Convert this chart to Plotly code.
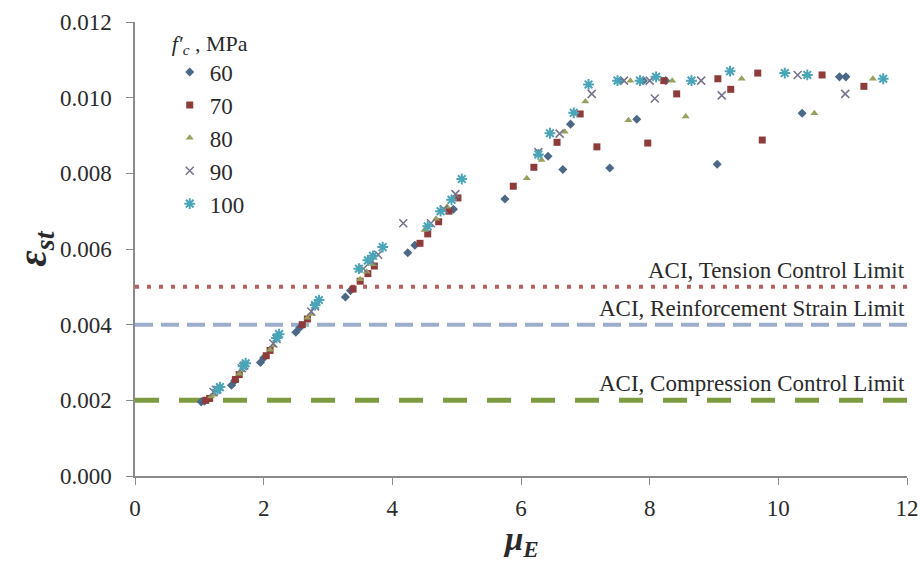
import plotly.graph_objects as go

# Steel strain at ultimate vs. ductility index, grouped by concrete strength f'c (MPa)
mu_60 = [1.03, 1.08, 1.50, 1.55, 1.95, 2.00, 2.50, 2.56, 3.27, 3.35, 4.24, 4.35, 4.95,
         5.75, 6.42, 6.65, 6.77, 7.38, 7.80, 9.05, 10.37, 7.55, 7.90, 8.25, 10.95, 11.05]
eps_60 = [0.00196, 0.00198, 0.00240, 0.00252, 0.00300, 0.00312, 0.00380, 0.00392, 0.00473, 0.00490,
          0.00590, 0.00610, 0.00705, 0.00732, 0.00845, 0.00810, 0.00930, 0.00814, 0.00943, 0.00824,
          0.00959, 0.01045, 0.01045, 0.01045, 0.01055, 0.01055]

mu_70 = [1.10, 1.16, 1.56, 1.62, 2.04, 2.10, 2.60, 2.68, 3.39, 3.50, 3.62, 3.72, 4.43, 4.55,
         4.72, 4.88, 5.02, 5.88, 6.20, 6.56, 6.92, 7.18, 7.97, 8.42, 9.26, 9.75, 11.33, 8.22,
         9.06, 9.68, 10.68]
eps_70 = [0.00200, 0.00205, 0.00255, 0.00268, 0.00318, 0.00332, 0.00400, 0.00415, 0.00494, 0.00515,
          0.00535, 0.00555, 0.00615, 0.00640, 0.00672, 0.00700, 0.00735, 0.00766, 0.00816, 0.00882,
          0.00957, 0.00870, 0.00880, 0.01010, 0.01022, 0.00888, 0.01030, 0.01045, 0.01050, 0.01065,
          0.01060]

mu_80 = [1.18, 1.22, 1.62, 1.66, 2.10, 2.15, 2.68, 2.74, 3.50, 3.60, 3.70, 4.50, 4.68, 4.85,
         6.09, 6.32, 6.68, 7.00, 7.67, 8.56, 10.56, 7.70, 8.35, 9.43, 10.45, 11.47]
eps_80 = [0.00210, 0.00215, 0.00270, 0.00280, 0.00334, 0.00345, 0.00418, 0.00428, 0.00520, 0.00540,
          0.00560, 0.00650, 0.00680, 0.00712, 0.00787, 0.00835, 0.00910, 0.00990, 0.00940, 0.00950,
          0.00959, 0.01045, 0.01045, 0.01050, 0.01060, 0.01050]

mu_90 = [1.22, 1.26, 1.66, 1.70, 2.15, 2.20, 2.74, 2.80, 3.55, 3.68, 3.78, 4.17, 4.60, 4.80,
         4.98, 6.27, 6.60, 7.10, 8.08, 9.12, 11.04, 7.60, 8.00, 8.80, 10.30]
eps_90 = [0.00222, 0.00228, 0.00285, 0.00292, 0.00350, 0.00362, 0.00435, 0.00448, 0.00548, 0.00568,
          0.00585, 0.00668, 0.00668, 0.00705, 0.00745, 0.00856, 0.00905, 0.01010, 0.00998, 0.01006,
          0.01010, 0.01045, 0.01045, 0.01045, 0.01060]

mu_100 = [1.28, 1.32, 1.68, 1.72, 2.20, 2.24, 2.80, 2.86, 3.48, 3.62, 3.70, 3.85, 4.55, 4.75,
          4.92, 5.08, 6.27, 6.45, 6.82, 7.05, 7.50, 7.85, 8.10, 8.65, 9.25, 10.10, 10.45, 11.63]
eps_100 = [0.00228, 0.00235, 0.00290, 0.00298, 0.00365, 0.00375, 0.00452, 0.00465, 0.00548, 0.00570,
           0.00582, 0.00605, 0.00660, 0.00700, 0.00730, 0.00785, 0.00850, 0.00906, 0.00960, 0.01035,
           0.01045, 0.01045, 0.01055, 0.01045, 0.01070, 0.01065, 0.01060, 0.01050]

# ACI strain limits
limit_names = ["ACI, Tension Control Limit", "ACI, Reinforcement Strain Limit",
               "ACI, Compression Control Limit"]
limit_values = [0.005, 0.004, 0.002]

x_ticks = [0, 2, 4, 6, 8, 10, 12]
y_ticks = [0.000, 0.002, 0.004, 0.006, 0.008, 0.010, 0.012]

SERIF = "Liberation Serif"
INK = "#2a2a2a"

series = [
    ("60", mu_60, eps_60, dict(symbol="diamond", size=7, color="#4B6887")),
    ("70", mu_70, eps_70, dict(symbol="square", size=7, color="#8E3C3B")),
    ("80", mu_80, eps_80, dict(symbol="triangle-up", size=7, color="#97A05C")),
    ("90", mu_90, eps_90, dict(symbol="x-thin-open", size=8, color="#76708A",
                               line=dict(width=1.5, color="#76708A"))),
    ("100", mu_100, eps_100, dict(symbol="asterisk-open", size=9, color="#4BA5B8",
                                  line=dict(width=2, color="#4BA5B8"))),
]

fig = go.Figure()

# Limit lines (drawn first so markers sit on top)
line_styles = [
    dict(color="#B9605E", width=4, dash="4px,8px"),
    dict(color="#9DAECB", width=4, dash="18px,8px"),
    dict(color="#7F9B3F", width=5, dash="24px,20px"),
]
for name, val, style in zip(limit_names, limit_values, line_styles):
    fig.add_trace(go.Scatter(x=[0, 12], y=[val, val], mode="lines", line=style,
                             showlegend=False, hoverinfo="skip"))

for name, xs, ys, mk in series:
    fig.add_trace(go.Scatter(x=xs, y=ys, mode="markers", name=name, marker=mk))

# Limit labels, right-aligned above each line
for name, val in zip(limit_names, limit_values):
    fig.add_annotation(x=12, y=val, xref="x", yref="y", text=name, showarrow=False,
                       xanchor="right", yanchor="bottom", yshift=2,
                       font=dict(family=SERIF, size=23, color=INK))

# Axis titles
fig.add_annotation(x=0.5, y=-0.145, xref="paper", yref="paper", text="<i><b>μ<sub>E</sub></b></i>",
                   showarrow=False, xanchor="center", yanchor="middle",
                   font=dict(family=SERIF, size=33, color=INK))
fig.add_annotation(x=-0.13, y=0.5, xref="paper", yref="paper", text="<i><b>ε<sub>st</sub></b></i>",
                   showarrow=False, xanchor="center", yanchor="middle", textangle=-90,
                   font=dict(family=SERIF, size=40, color=INK))

fig.update_layout(
    width=920, height=564,
    margin=dict(l=135, r=13, t=22, b=88),
    paper_bgcolor="white", plot_bgcolor="white",
    font=dict(family=SERIF, size=22, color=INK),
    legend=dict(
        title=dict(text="<i>f′<sub>c</sub></i> , MPa", font=dict(family=SERIF, size=22)),
        x=0.045, y=1.0, xanchor="left", yanchor="top",
        bgcolor="rgba(0,0,0,0)", font=dict(family=SERIF, size=23),
        itemwidth=30, tracegroupgap=0,
    ),
    xaxis=dict(
        range=[0, 12], tickvals=x_ticks, ticks="outside", ticklen=7, tickcolor="#8a8a8a",
        showline=True, linecolor="#8a8a8a", linewidth=1.5, showgrid=False, zeroline=False,
        tickfont=dict(family=SERIF, size=23), automargin=False, ticklabelstandoff=4,
    ),
    yaxis=dict(
        range=[0, 0.012], tickvals=y_ticks, tickformat=".3f", ticks="outside", ticklen=7,
        tickcolor="#8a8a8a", showline=True, linecolor="#8a8a8a", linewidth=1.5,
        showgrid=False, zeroline=False, tickfont=dict(family=SERIF, size=23),
        automargin=False, ticklabelstandoff=10,
    ),
)

fig.write_html("out.html")
